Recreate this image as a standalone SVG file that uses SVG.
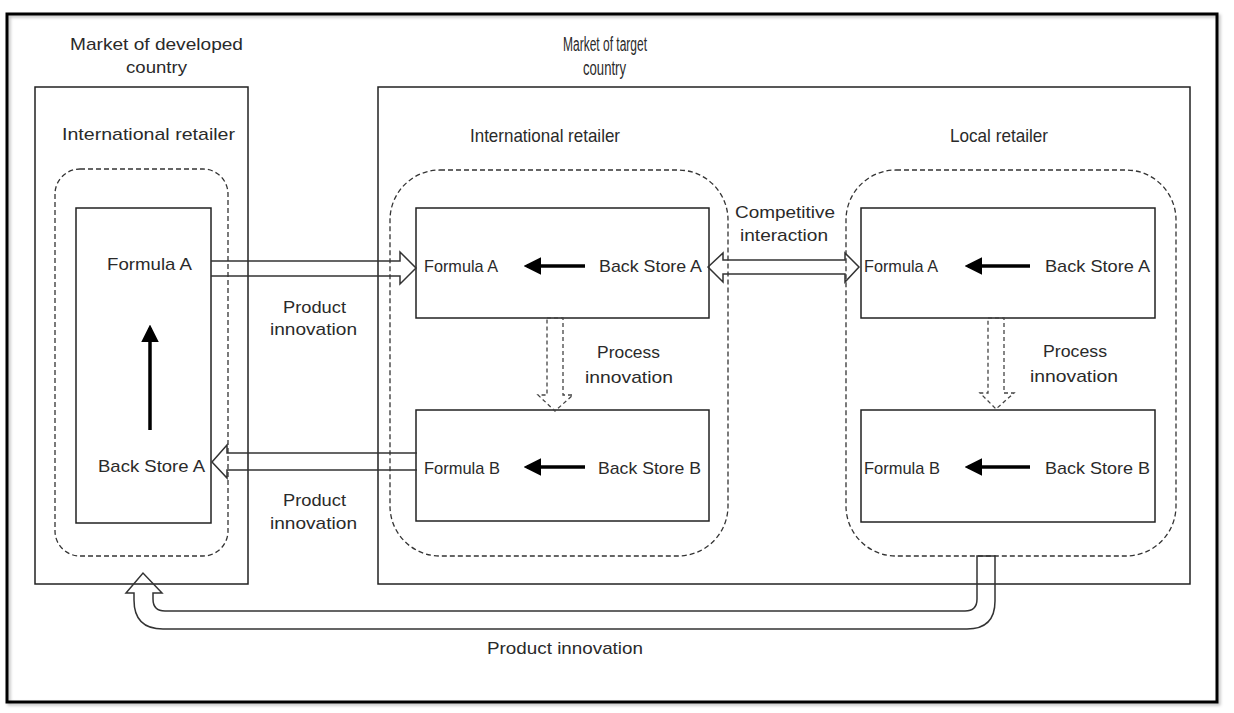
<svg xmlns="http://www.w3.org/2000/svg" width="1234" height="713" viewBox="0 0 1234 713">
<defs>
<style>
text{font-family:"Liberation Sans",Arial,sans-serif;font-size:17px;fill:#2a2a2a}
text.cond{font-size:20px}
text.head{font-size:19px}
.box{fill:none;stroke:#222;stroke-width:1.5}
.dash{fill:none;stroke:#333;stroke-width:1.3;stroke-dasharray:5 3}
.hollow{fill:none;stroke:#333;stroke-width:1.5;stroke-linejoin:miter}
.hollowd{fill:none;stroke:#444;stroke-width:1.3;stroke-dasharray:4 3}
.solid{stroke:#000;stroke-width:3.5;fill:none;marker-end:url(#ah)}
</style>
<marker id="ah" markerWidth="5" markerHeight="5" refX="4" refY="2.5" orient="auto" markerUnits="strokeWidth">
<path d="M0,0 L5,2.5 L0,5 Z" fill="#000"/>
</marker>
<filter id="sh" x="-5%" y="-5%" width="110%" height="110%">
<feDropShadow dx="2" dy="2" stdDeviation="1.5" flood-color="#000" flood-opacity="0.25"/>
</filter>
</defs>
<rect x="0" y="0" width="1234" height="713" fill="#fff"/>
<rect x="7" y="14" width="1210" height="688" fill="none" stroke="#000" stroke-width="3" filter="url(#sh)"/>

<g id="market-developed">
<rect class="box" x="35" y="87" width="213" height="497"/>
<text x="70" y="50" textLength="173" lengthAdjust="spacingAndGlyphs">Market of developed</text>
<text x="126" y="73" textLength="61" lengthAdjust="spacingAndGlyphs">country</text>
<text x="62" y="140" textLength="173" lengthAdjust="spacingAndGlyphs">International retailer</text>
<rect class="dash" x="55" y="169" width="173" height="387" rx="25"/>
</g>
<g id="left-store">
<rect class="box" x="76" y="208" width="135" height="315"/>
<text x="107" y="270" textLength="85" lengthAdjust="spacingAndGlyphs">Formula A</text>
<text x="98" y="472" textLength="107" lengthAdjust="spacingAndGlyphs">Back Store A</text>
</g>

<g id="market-target">
<rect class="box" x="378" y="87" width="812" height="497"/>
<text class="cond" x="563" y="51" textLength="84" lengthAdjust="spacingAndGlyphs">Market of target</text>
<text class="cond" x="583" y="75" textLength="43" lengthAdjust="spacingAndGlyphs">country</text>
</g>
<g id="intl-retailer">
<text class="head" x="470" y="142" textLength="150" lengthAdjust="spacingAndGlyphs">International  retailer</text>
<rect class="dash" x="390" y="170" width="338" height="386" rx="50"/>
</g>
<g id="local-retailer">
<text class="head" x="950" y="142" textLength="98" lengthAdjust="spacingAndGlyphs">Local retailer</text>
<rect class="dash" x="846" y="170" width="330" height="386" rx="50"/>
</g>
<g id="mid-A">
<rect class="box" x="416" y="208" width="293" height="110"/>
<text x="424" y="272" textLength="74" lengthAdjust="spacingAndGlyphs">Formula A</text>
<text x="599" y="272" textLength="103" lengthAdjust="spacingAndGlyphs">Back Store A</text>
</g>
<g id="mid-B">
<rect class="box" x="416" y="410" width="293" height="111"/>
<text x="424" y="474" textLength="76" lengthAdjust="spacingAndGlyphs">Formula B</text>
<text x="598" y="474" textLength="103" lengthAdjust="spacingAndGlyphs">Back Store B</text>
</g>
<g id="right-A">
<rect class="box" x="861" y="208" width="294" height="110"/>
<text x="864" y="272" textLength="74" lengthAdjust="spacingAndGlyphs">Formula A</text>
<text x="1045" y="272" textLength="105" lengthAdjust="spacingAndGlyphs">Back Store A</text>
</g>
<g id="right-B">
<rect class="box" x="861" y="410" width="294" height="112"/>
<text x="864" y="474" textLength="76" lengthAdjust="spacingAndGlyphs">Formula B</text>
<text x="1045" y="474" textLength="105" lengthAdjust="spacingAndGlyphs">Back Store B</text>
</g>

<g id="connectors">
<line class="solid" x1="150" y1="430" x2="150" y2="328"/>
<line class="solid" x1="585" y1="266" x2="527" y2="266"/>
<line class="solid" x1="1030" y1="266" x2="968" y2="266"/>
<line class="solid" x1="585" y1="467" x2="527" y2="467"/>
<line class="solid" x1="1030" y1="467" x2="968" y2="467"/>
<path class="hollow" d="M211,261 L400,261 L400,252 L416,268 L400,284 L400,276 L211,276"/>
<path class="hollow" d="M417,453 L227,453 L227,445 L212,462 L227,478 L227,470 L417,470"/>
<path class="hollow" d="M708,267 L723,253 L723,260 L845,260 L845,253 L859,267 L845,282 L845,274 L723,274 L723,282 Z"/>
<path class="hollowd" d="M547,318 L563,318 L563,395 L573,395 L555,411 L538,395 L547,395 Z"/>
<path class="hollowd" d="M988,318 L1004,318 L1004,393 L1014,393 L996,409 L980,393 L988,393 Z"/>
<path class="hollow" d="M977,556 L977,599 Q977,611 965,611 L165,611 Q153,611 153,599 L153,593 L162,593 L143,573 L126,593 L134,593 L134,600 Q134,629 163,629 L967,629 Q995,629 995,601 L995,556 Z"/>
<text x="283" y="313" textLength="63" lengthAdjust="spacingAndGlyphs">Product</text>
<text x="270" y="335" textLength="87" lengthAdjust="spacingAndGlyphs">innovation</text>
<text x="283" y="506" textLength="63" lengthAdjust="spacingAndGlyphs">Product</text>
<text x="270" y="529" textLength="87" lengthAdjust="spacingAndGlyphs">innovation</text>
<text x="735" y="218" textLength="100" lengthAdjust="spacingAndGlyphs">Competitive</text>
<text x="740" y="241" textLength="88" lengthAdjust="spacingAndGlyphs">interaction</text>
<text x="597" y="358" textLength="63" lengthAdjust="spacingAndGlyphs">Process</text>
<text x="585" y="383" textLength="88" lengthAdjust="spacingAndGlyphs">innovation</text>
<text x="1043" y="357" textLength="64" lengthAdjust="spacingAndGlyphs">Process</text>
<text x="1030" y="382" textLength="88" lengthAdjust="spacingAndGlyphs">innovation</text>
<text x="487" y="654" textLength="156" lengthAdjust="spacingAndGlyphs">Product innovation</text>
</g>
</svg>
